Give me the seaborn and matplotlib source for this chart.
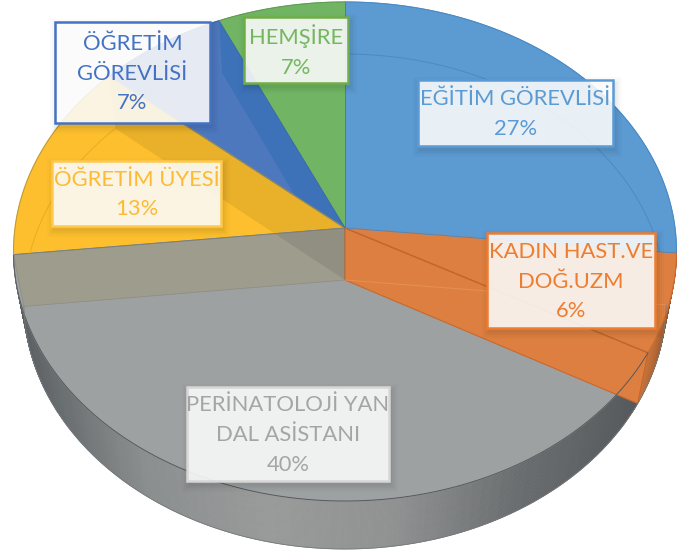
import numpy as np
import matplotlib
matplotlib.use('Agg')
import matplotlib.pyplot as plt
from matplotlib.patches import Rectangle
import seaborn as sns

# dilimler, saat yonunde, tepeden baslar
categories = ['EĞİTİM GÖREVLİSİ', 'KADIN HAST.VE\nDOĞ.UZM', 'PERİNATOLOJİ YAN\nDAL ASİSTANI',
              'ÖĞRETİM ÜYESİ', 'ÖĞRETİM\nGÖREVLİSİ', 'HEMŞİRE']
values = [26.6, 6.4, 40.3, 13.0, 6.9, 6.8]

top_colors = ['#5c9ad2', '#dd7f40', '#9da1a1', '#fdbf2d', '#4e78be', '#71b564']
text_colors = ['#5b9bd5', '#ed7d31', '#a5a5a5', '#fdbb35', '#4472c4', '#75b760']
box_edges = ['#5b9bd5', '#ed7d31', '#d6d6d6', '#ffc94d', '#4472c4', '#70ad47']

# etiket kutulari: sol, ust, sag, alt (piksel)
boxes = [(418, 80, 613, 146), (487, 233, 655, 328), (187, 387, 389, 481),
         (52, 161, 221, 226), (55, 22, 210, 123), (244, 17, 348, 83)]

sns.set_theme(style='white')
plt.rcParams['font.family'] = ['Lato', 'DejaVu Sans']

fig = plt.figure(figsize=(6.89, 5.5), dpi=100)
ax = fig.add_axes([0, 0, 1, 1])
ax.set_xlim(0, 689)
ax.set_ylim(550, 0)
ax.axis('off')

cuts = np.concatenate([[0], np.cumsum(values) / np.sum(values)])


def top_pt(f):
    f = np.asarray(f, dtype=float)
    u, v = np.sin(2 * np.pi * f), np.cos(2 * np.pi * f)
    s = 1 / (1 + 0.0942 * v)
    return 345 + 330 * u * s, 228 - 247.3 * v * s


def bot_pt(f):
    f = np.asarray(f, dtype=float)
    u, v = np.sin(2 * np.pi * f), np.cos(2 * np.pi * f)
    s = 1 / (1 + 0.0869 * v)
    return 345 + 320 * u * s, 280 - 245.6 * v * s


def wedge(f0, f1):
    fs = np.linspace(f0, f1, 120)
    x, y = top_pt(fs)
    return np.r_[345, x], np.r_[228, y]


def wall(f):
    # kesit duvari: tepe merkez, alt merkez, alt kenar, ust kenar
    bx, by = bot_pt(f)
    tx, ty = top_pt(f)
    return [345, 345, bx, tx], [228, 280, by, ty]


# on taraftaki yan yuzey
grad_gray = sns.blend_palette(['#5a5f63', '#8b8e8e', '#999b9b', '#909292', '#6a6d6f', '#55595c'], n_colors=200)
grad_orange = sns.blend_palette(['#c8733a', '#9a5a30', '#3f3028'], n_colors=60)
fs = np.linspace(cuts[1], cuts[3], 500)
for a, b in zip(fs[:-1], fs[1:]):
    xa, ya = top_pt(a)
    xb, yb = top_pt(b)
    xc, yc = bot_pt(b)
    xd, yd = bot_pt(a)
    if a < cuts[2]:
        t = (a - cuts[1]) / (cuts[2] - cuts[1])
        c = grad_orange[int((1 - t) * 59)]
    else:
        c = grad_gray[int(np.clip((xd - 24) / (637 - 24) * 199, 0, 199))]
    ax.fill([xa, xb, xc, xd], [ya, yb, yc, yd], color=c, lw=0.6, zorder=1)

# ust yuzey dilimleri
polys = []
for i in range(6):
    x, y = wedge(cuts[i], cuts[i + 1])
    polys.append(ax.fill(x, y, facecolor=top_colors[i], edgecolor=top_colors[i], lw=0.8, zorder=2)[0])

# sari dilimin duvari griden gorunuyor
x, y = wall(cuts[3])
ax.fill(x, y, facecolor='#9e9c8c', edgecolor='#8f8f86', lw=0.6, zorder=3)

# turuncu dilimin duvari griye biniyor
x, y = wall(cuts[2])
ax.fill(x, y, facecolor=top_colors[1], edgecolor='#c9682c', lw=0.8, zorder=3)
tx, ty = top_pt(cuts[2])
ax.plot([345, tx], [228, ty], color='#b9622c', lw=0.8, zorder=4)
x0, y0 = bot_pt(cuts[1])
ax.plot([345, x0], [280, y0], color='#e8955c', lw=0.8, alpha=0.7, zorder=4)

# koyu mavi duvari sarinin ustunde
x, y = wall(cuts[4])
ax.fill(x, y, color='black', alpha=0.08, lw=0, zorder=4)

# yesil duvari koyu mavinin ustunde
x, y = wall(cuts[5])
p = ax.fill(x, y, color='#3d72b8', lw=0, zorder=4)[0]
p.set_clip_path(polys[4])

# dilim sinirlari
edge_cols = ['#4a88c4', '#c9682c', '#7b7f80', '#9a8c55', '#3a68ad', '#3f7fb5']
for i in range(6):
    tx, ty = top_pt(cuts[i])
    ax.plot([345, tx], [228, ty], color=edge_cols[i - 1], lw=0.7, zorder=5)

# alt yuzeyin soluk yayi, sadece kendi diliminde
for i, c in [(0, '#4b8ac6'), (3, '#e8ae20')]:
    bx, by = bot_pt(np.linspace(cuts[i], cuts[i + 1], 150))
    line = ax.plot(bx, by, color=c, lw=0.7, zorder=5)[0]
    line.set_clip_path(polys[i])

# dis kenarlar
arc = [(cuts[0], cuts[1], '#4a88c4'), (cuts[1], cuts[2], '#c9682c'), (cuts[2], cuts[3], '#55595c'),
       (cuts[3], cuts[4], '#b89a40'), (cuts[4], cuts[5], '#3a68ad'), (cuts[5], cuts[6], '#5f9a50')]
for f0, f1, c in arc:
    tx, ty = top_pt(np.linspace(f0, f1, 200))
    ax.plot(tx, ty, color=c, lw=0.7, zorder=5)
bx, by = bot_pt(np.linspace(cuts[1], cuts[3], 300))
ax.plot(bx, by, color='#777b7d', lw=0.6, zorder=5)

# etiketler
for name, val, box, tc, ec in zip(categories, values, boxes, text_colors, box_edges):
    l, t, r, b = box
    for grow, al in [(7, 0.015), (5, 0.02), (3, 0.03), (1, 0.03)]:
        ax.add_patch(Rectangle((l - grow + 2, t - grow + 4), r - l + 2 * grow, b - t + 2 * grow,
                               facecolor='black', edgecolor='none', alpha=al, zorder=6))
    ax.add_patch(Rectangle((l, t), r - l, b - t, facecolor=(1, 1, 1, 0.87), edgecolor=ec, lw=1.8, zorder=7))
    ax.text((l + r) / 2, (t + b) / 2 + 1, f'{name}\n{val:.0f}%', color=tc, fontsize=15.8,
            ha='center', va='center', linespacing=1.62, zorder=8)

fig.savefig('out.png', dpi=100)
